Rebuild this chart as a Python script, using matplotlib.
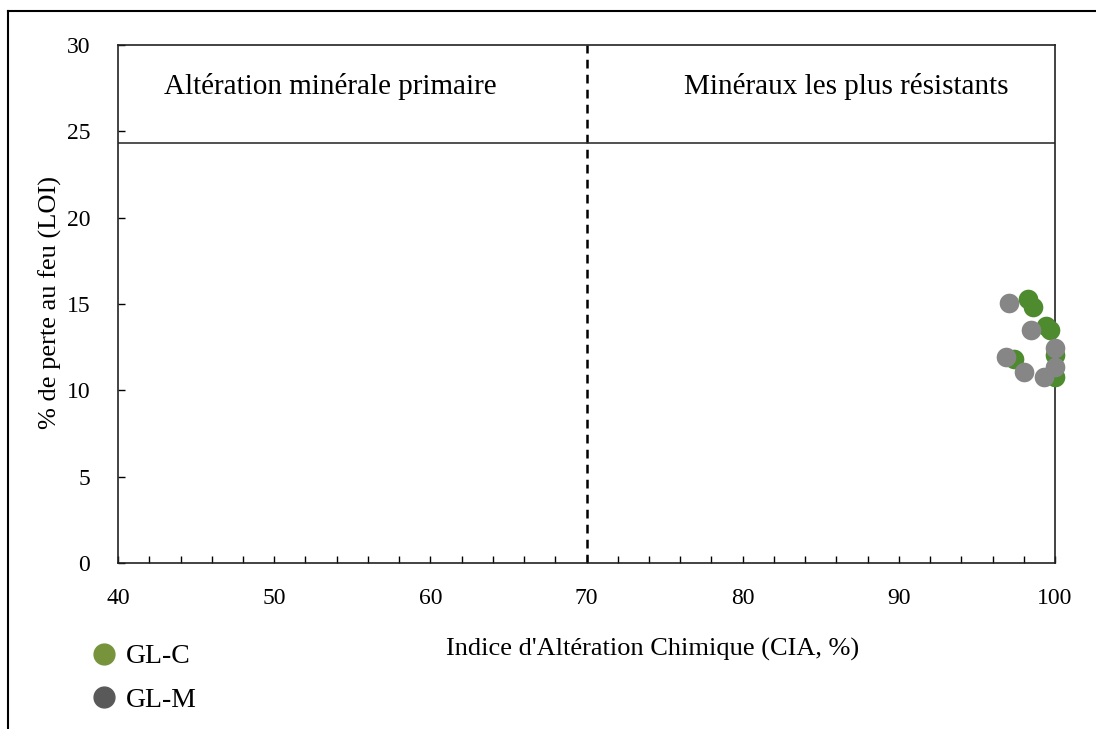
import matplotlib
matplotlib.use("Agg")
import matplotlib.pyplot as plt
from matplotlib.lines import Line2D

plt.rcParams['font.family'] = ['Liberation Serif', 'DejaVu Serif']

# Data
glc_cia = [98.3, 98.6, 99.4, 99.7, 97.4, 100.0, 100.0]
glc_loi = [15.3, 14.8, 13.7, 13.5, 11.8, 12.05, 10.8]
glm_cia = [97.05, 98.45, 96.85, 98.0, 99.3, 100.0, 100.0]
glm_loi = [15.05, 13.5, 11.95, 11.05, 10.8, 12.45, 11.35]

series_names = ['GL-C', 'GL-M']
zone_labels = ['Altération minérale primaire', 'Minéraux les plus résistants']
xlabel = "Indice d'Altération Chimique (CIA, %)"
ylabel = '% de perte au feu (LOI)'

fig = plt.figure(figsize=(10.96, 7.29), dpi=100)
ax = fig.add_axes([0.1077, 0.2277, 0.9626 - 0.1077, 0.9383 - 0.2277])

ax.set_xlim(40, 100)
ax.set_ylim(0, 30)
ax.set_xticks(range(40, 101, 10))
ax.set_xticks(range(40, 101, 2), minor=True)
ax.set_yticks(range(0, 31, 5))
ax.tick_params(direction='in', length=5, width=1, labelsize=17)
ax.tick_params(axis='x', pad=18)
ax.tick_params(axis='y', pad=20)
ax.tick_params(which='minor', direction='in', length=5, width=1)
for s in ax.spines.values():
    s.set_linewidth(1.2)
    s.set_color('#222222')

ax.axvline(70, color='black', linestyle=(0, (3.5, 2.5)), linewidth=1.8, zorder=2)
ax.axhline(24.35, color='#333333', linewidth=1.2, zorder=2)

ax.text(53.6, 27.6, zone_labels[0], ha='center', va='center', fontsize=21)
ax.text(86.6, 27.6, zone_labels[1], ha='center', va='center', fontsize=21)

ax.scatter(glc_cia, glc_loi, s=200, color='#4E8A2E', zorder=3, clip_on=False, linewidths=0)
ax.scatter(glm_cia, glm_loi, s=200, color='#868686', zorder=4, clip_on=False, linewidths=0)

ax.set_xlabel(xlabel, fontsize=19)
ax.xaxis.set_label_coords((653 - 118) / 937, -(649 - 563) / 518, transform=ax.transAxes)
ax.xaxis.label.set_va('center')
ax.set_ylabel(ylabel, fontsize=19)
ax.yaxis.set_label_coords(-(118 - 50) / 937, (563 - 303) / 518, transform=ax.transAxes)
ax.yaxis.label.set_va('center')

handles = [Line2D([], [], marker='o', linestyle='', markersize=15, color='#77933C'),
           Line2D([], [], marker='o', linestyle='', markersize=15, color='#595959')]
fig.legend(handles, series_names, loc='upper left', bbox_to_anchor=(0.072, 0.132),
           frameon=False, fontsize=20, handletextpad=0.3, labelspacing=0.65,
           borderaxespad=0, handlelength=1.0)

# outer frame
fig.add_artist(Line2D([8/1096, 8/1096], [0, 1 - 11/729], transform=fig.transFigure, color='black', lw=1.5))
fig.add_artist(Line2D([8/1096, 1], [1 - 11/729, 1 - 11/729], transform=fig.transFigure, color='black', lw=1.5))

fig.savefig('out.png', dpi=100)
